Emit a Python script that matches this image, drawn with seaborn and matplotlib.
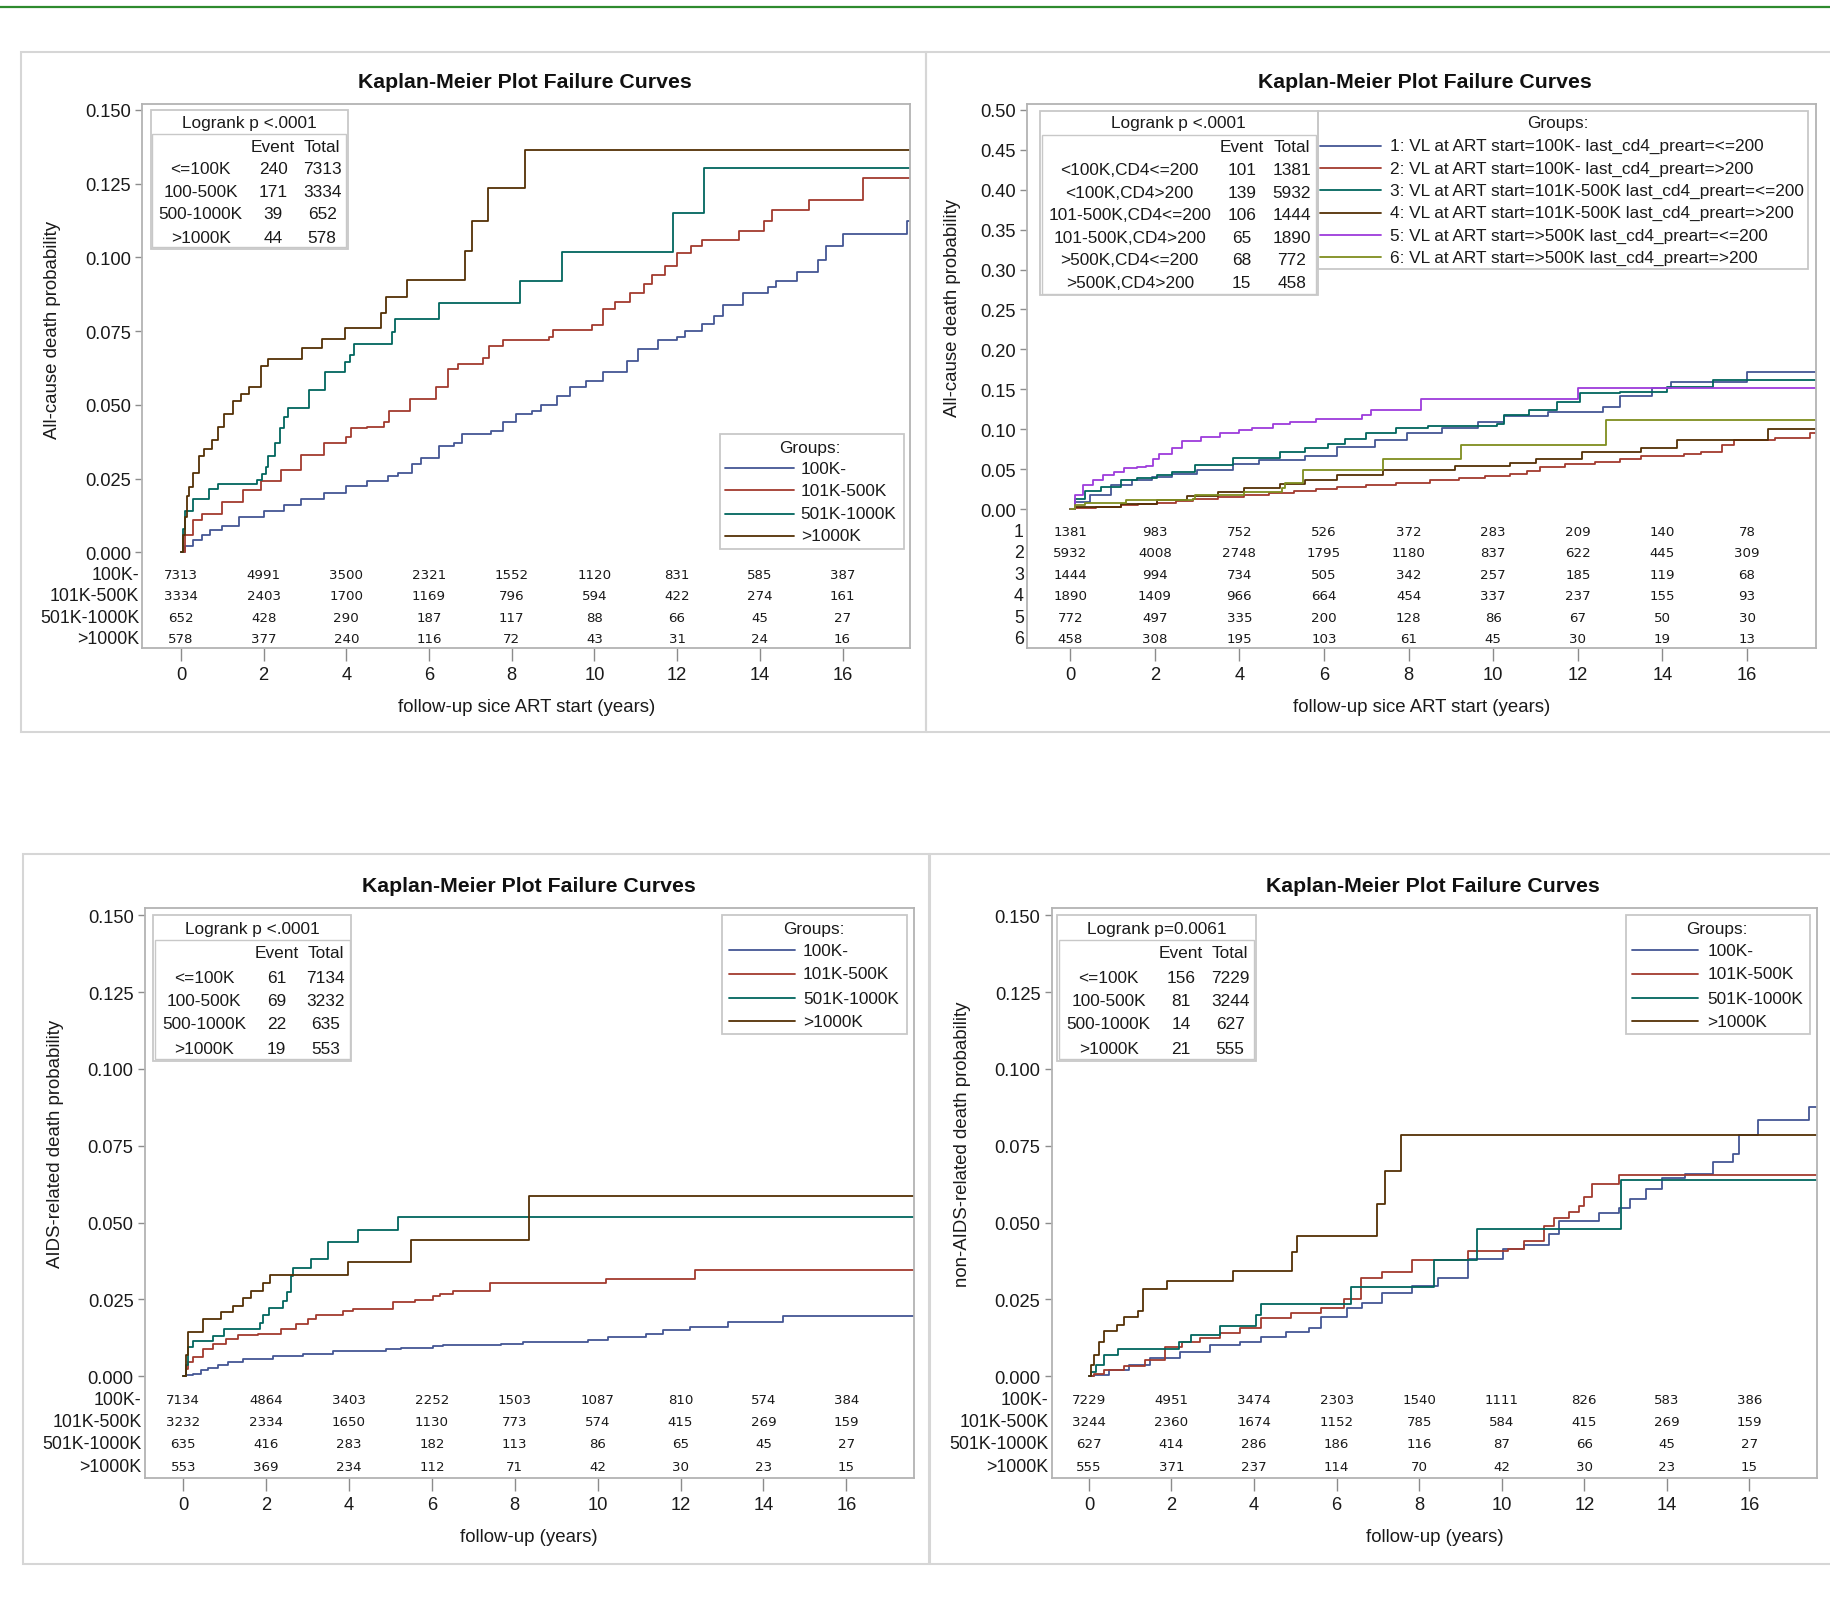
import numpy as np
import pandas as pd
import matplotlib
matplotlib.use("Agg")
import matplotlib.pyplot as plt
import seaborn as sns
from matplotlib.patches import Rectangle
from matplotlib.lines import Line2D
from matplotlib.transforms import blended_transform_factory

sns.set_theme(style="white")
plt.rcParams["font.family"] = ["Liberation Sans", "DejaVu Sans"]

# ------------------------------------------------------------------ data
TITLE = "Kaplan-Meier Plot Failure Curves"
YEARS_AT_RISK = [0, 2, 4, 6, 8, 10, 12, 14, 16]
GROUPS4 = ["100K-", "101K-500K", "501K-1000K", ">1000K"]
COLORS4 = ["#445694", "#A23A2E", "#01665E", "#543005"]
GROUPS6 = ["1", "2", "3", "4", "5", "6"]
COLORS6 = ["#445694", "#A23A2E", "#01665E", "#543005", "#9D3CDB", "#7F8E1F"]
GROUPS6_LABELS = [
    "1: VL at ART start=100K- last_cd4_preart=<=200",
    "2: VL at ART start=100K- last_cd4_preart=>200",
    "3: VL at ART start=101K-500K last_cd4_preart=<=200",
    "4: VL at ART start=101K-500K last_cd4_preart=>200",
    "5: VL at ART start=>500K last_cd4_preart=<=200",
    "6: VL at ART start=>500K last_cd4_preart=>200",
]

# --- Panel A: all-cause death, 4 VL groups
A_100K_t = [0, 0.1, 0.3, 0.5, 0.7, 1.0, 1.4, 2.0, 2.5, 2.9, 3.45, 4.0, 4.5, 5.0, 5.25, 5.6, 5.8, 6.25, 6.6, 6.8, 7.5, 7.8, 8.1, 8.5, 8.7, 9.1, 9.4, 9.8, 10.2, 10.8, 11.05, 11.55, 12.0, 12.2, 12.6, 12.9, 13.1, 13.6, 14.2, 14.4, 14.9, 15.4, 15.6, 16.0, 17.55, 17.64]
A_100K_v = [0, 0.002, 0.004, 0.006, 0.0075, 0.009, 0.012, 0.014, 0.016, 0.018, 0.020, 0.0225, 0.024, 0.026, 0.027, 0.030, 0.032, 0.036, 0.037, 0.040, 0.041, 0.044, 0.047, 0.048, 0.050, 0.053, 0.056, 0.058, 0.061, 0.065, 0.069, 0.072, 0.073, 0.075, 0.0775, 0.080, 0.084, 0.088, 0.090, 0.092, 0.095, 0.099, 0.104, 0.108, 0.1125, 0.1125]
A_500K_t = [0, 0.1, 0.3, 0.5, 1.0, 1.5, 1.93, 2.42, 2.9, 3.45, 4.0, 4.12, 4.5, 4.9, 5.04, 5.54, 6.18, 6.46, 6.7, 7.3, 7.45, 7.8, 8.9, 9.0, 9.95, 10.2, 10.5, 10.85, 11.2, 11.4, 11.7, 12.0, 12.33, 12.6, 13.5, 14.1, 14.3, 15.2, 16.5, 17.64]
A_500K_v = [0, 0.006, 0.011, 0.013, 0.017, 0.021, 0.024, 0.028, 0.033, 0.037, 0.039, 0.042, 0.0425, 0.044, 0.048, 0.052, 0.056, 0.062, 0.064, 0.066, 0.070, 0.072, 0.073, 0.0755, 0.077, 0.0825, 0.085, 0.088, 0.091, 0.094, 0.097, 0.1015, 0.104, 0.106, 0.109, 0.1125, 0.116, 0.1195, 0.127, 0.127]
A_1000K_t = [0, 0.05, 0.1, 0.3, 0.69, 0.9, 1.85, 1.95, 2.05, 2.1, 2.28, 2.4, 2.5, 2.59, 3.1, 3.48, 3.97, 4.08, 4.19, 5.1, 5.17, 6.25, 8.2, 9.22, 11.91, 12.65, 17.64]
A_1000K_v = [0, 0.008, 0.014, 0.018, 0.0215, 0.0233, 0.0245, 0.0265, 0.029, 0.0326, 0.037, 0.042, 0.046, 0.049, 0.055, 0.061, 0.0644, 0.067, 0.0705, 0.0748, 0.079, 0.0844, 0.092, 0.1018, 0.1152, 0.1303, 0.1303]
A_gt1000K_t = [0, 0.05, 0.1, 0.15, 0.2, 0.3, 0.44, 0.55, 0.75, 0.9, 1.05, 1.26, 1.46, 1.64, 1.93, 2.11, 2.92, 3.41, 3.98, 4.84, 4.97, 5.47, 6.86, 7.03, 7.42, 8.33, 17.64]
A_gt1000K_v = [0, 0.006, 0.012, 0.019, 0.022, 0.027, 0.0326, 0.035, 0.038, 0.0424, 0.047, 0.0512, 0.0538, 0.056, 0.0632, 0.0656, 0.0692, 0.0724, 0.076, 0.081, 0.0864, 0.0924, 0.1023, 0.1124, 0.1235, 0.1364, 0.1364]
A_risk_100K = [7313, 4991, 3500, 2321, 1552, 1120, 831, 585, 387]
A_risk_500K = [3334, 2403, 1700, 1169, 796, 594, 422, 274, 161]
A_risk_1000K = [652, 428, 290, 187, 117, 88, 66, 45, 27]
A_risk_gt1000K = [578, 377, 240, 116, 72, 43, 31, 24, 16]
A_lr_header = "Logrank p <.0001"
A_lr_labels = ["<=100K", "100-500K", "500-1000K", ">1000K"]
A_lr_events = [240, 171, 39, 44]
A_lr_totals = [7313, 3334, 652, 578]

# --- Panel B: all-cause death, 6 VL x CD4 groups
B1_t = [0, 0.12, 0.48, 0.96, 1.45, 1.93, 2.4, 3.0, 3.86, 4.46, 5.55, 6.3, 7.2, 7.96, 8.8, 9.65, 10.25, 11.3, 12.6, 13.0, 13.75, 14.2, 16.0, 17.63]
B1_v = [0, 0.009, 0.017, 0.030, 0.036, 0.040, 0.044, 0.049, 0.056, 0.061, 0.067, 0.078, 0.086, 0.095, 0.101, 0.109, 0.117, 0.122, 0.128, 0.141, 0.151, 0.159, 0.171, 0.171]
B2_t = [0, 0.12, 0.6, 1.2, 1.6, 2.05, 2.5, 2.9, 3.5, 4.1, 4.7, 5.3, 5.8, 6.3, 7.0, 7.7, 8.5, 9.2, 9.8, 10.4, 10.8, 11.1, 11.7, 12.4, 13.0, 13.5, 14.5, 14.9, 15.4, 15.7, 16.65, 17.5, 17.63]
B2_v = [0, 0.0013, 0.003, 0.0046, 0.006, 0.008, 0.010, 0.013, 0.015, 0.018, 0.020, 0.023, 0.025, 0.028, 0.030, 0.033, 0.036, 0.039, 0.041, 0.044, 0.048, 0.053, 0.056, 0.059, 0.063, 0.067, 0.069, 0.072, 0.080, 0.086, 0.089, 0.095, 0.095]
B3_t = [0, 0.12, 0.36, 0.72, 1.2, 1.57, 2.05, 2.4, 2.96, 3.86, 4.95, 5.55, 6.1, 6.5, 7.0, 7.7, 8.45, 10.1, 10.25, 10.85, 11.5, 12.06, 13.0, 14.1, 15.2, 17.63]
B3_v = [0, 0.013, 0.023, 0.028, 0.036, 0.039, 0.043, 0.046, 0.055, 0.064, 0.072, 0.076, 0.082, 0.088, 0.095, 0.101, 0.104, 0.107, 0.118, 0.124, 0.134, 0.145, 0.147, 0.153, 0.161, 0.161]
B4_t = [0, 0.12, 1.2, 2.05, 2.77, 3.5, 4.1, 4.95, 5.55, 6.3, 7.4, 9.1, 10.4, 11.0, 12.1, 13.5, 14.35, 16.5, 17.63]
B4_v = [0, 0.0025, 0.0067, 0.011, 0.016, 0.021, 0.026, 0.031, 0.036, 0.042, 0.049, 0.054, 0.058, 0.063, 0.072, 0.077, 0.087, 0.100, 0.100]
B5_t = [0, 0.12, 0.3, 0.54, 0.78, 1.03, 1.27, 1.57, 1.8, 1.95, 2.1, 2.4, 2.65, 3.1, 3.55, 4.0, 4.3, 4.8, 5.2, 5.8, 6.9, 7.1, 8.3, 12.0, 17.63]
B5_v = [0, 0.017, 0.030, 0.036, 0.042, 0.046, 0.051, 0.053, 0.054, 0.063, 0.069, 0.077, 0.085, 0.090, 0.095, 0.099, 0.102, 0.106, 0.109, 0.113, 0.118, 0.124, 0.138, 0.151, 0.151]
B6_t = [0, 0.12, 0.36, 1.33, 2.9, 2.96, 4.1, 5.0, 5.07, 5.5, 7.4, 9.23, 12.67, 17.63]
B6_v = [0, 0.005, 0.008, 0.011, 0.013, 0.017, 0.021, 0.026, 0.032, 0.049, 0.063, 0.080, 0.112, 0.112]
B_risk_1 = [1381, 983, 752, 526, 372, 283, 209, 140, 78]
B_risk_2 = [5932, 4008, 2748, 1795, 1180, 837, 622, 445, 309]
B_risk_3 = [1444, 994, 734, 505, 342, 257, 185, 119, 68]
B_risk_4 = [1890, 1409, 966, 664, 454, 337, 237, 155, 93]
B_risk_5 = [772, 497, 335, 200, 128, 86, 67, 50, 30]
B_risk_6 = [458, 308, 195, 103, 61, 45, 30, 19, 13]
B_lr_header = "Logrank p <.0001"
B_lr_labels = ["<100K,CD4<=200", "<100K,CD4>200", "101-500K,CD4<=200", "101-500K,CD4>200", ">500K,CD4<=200", ">500K,CD4>200"]
B_lr_events = [101, 139, 106, 65, 68, 15]
B_lr_totals = [1381, 5932, 1444, 1890, 772, 458]

# --- Panel C: AIDS-related death
C_100K_t = [0, 0.06, 0.24, 0.42, 0.6, 0.84, 1.09, 1.45, 2.17, 2.9, 3.62, 4.89, 5.25, 6.03, 6.27, 7.66, 8.2, 9.77, 10.25, 11.16, 11.58, 12.24, 13.15, 14.48, 17.63]
C_100K_v = [0, 0.0003, 0.0009, 0.0019, 0.0027, 0.0038, 0.0047, 0.0057, 0.0066, 0.0074, 0.0081, 0.0088, 0.0092, 0.0097, 0.0101, 0.0105, 0.0111, 0.0119, 0.0128, 0.0139, 0.0152, 0.016, 0.0176, 0.0196, 0.0196]
C_500K_t = [0, 0.06, 0.12, 0.24, 0.48, 0.72, 1.03, 1.33, 1.81, 2.35, 2.71, 3.02, 3.2, 3.86, 4.1, 5.07, 5.6, 6.03, 6.2, 6.5, 7.4, 10.2, 12.36, 17.63]
C_500K_v = [0, 0.0025, 0.0047, 0.0063, 0.009, 0.0106, 0.0122, 0.0133, 0.0139, 0.0153, 0.0171, 0.0187, 0.0198, 0.0214, 0.0218, 0.0241, 0.0249, 0.026, 0.0268, 0.0277, 0.0303, 0.0317, 0.0346, 0.0346]
C_1000K_t = [0, 0.06, 0.12, 0.24, 0.72, 0.99, 1.85, 1.93, 2.07, 2.41, 2.5, 2.6, 2.65, 3.08, 3.5, 4.22, 5.19, 17.63]
C_1000K_v = [0, 0.0036, 0.0095, 0.0114, 0.0131, 0.0155, 0.0174, 0.0198, 0.0222, 0.0245, 0.0274, 0.0326, 0.0352, 0.038, 0.0438, 0.0477, 0.0519, 0.0519]
C_gt1000K_t = [0, 0.06, 0.12, 0.48, 0.9, 1.2, 1.45, 1.63, 1.93, 2.09, 3.98, 5.49, 8.35, 17.63]
C_gt1000K_v = [0, 0.0068, 0.0144, 0.0187, 0.0209, 0.023, 0.0254, 0.0279, 0.0303, 0.0331, 0.0371, 0.0442, 0.0586, 0.0586]
C_risk_100K = [7134, 4864, 3403, 2252, 1503, 1087, 810, 574, 384]
C_risk_500K = [3232, 2334, 1650, 1130, 773, 574, 415, 269, 159]
C_risk_1000K = [635, 416, 283, 182, 113, 86, 65, 45, 27]
C_risk_gt1000K = [553, 369, 234, 112, 71, 42, 30, 23, 15]
C_lr_header = "Logrank p <.0001"
C_lr_labels = ["<=100K", "100-500K", "500-1000K", ">1000K"]
C_lr_events = [61, 69, 22, 19]
C_lr_totals = [7134, 3232, 635, 553]

# --- Panel D: non-AIDS-related death
D_100K_t = [0, 0.12, 0.49, 0.98, 1.47, 2.2, 2.94, 3.67, 4.16, 4.77, 5.32, 5.63, 6.24, 6.61, 7.1, 7.83, 8.45, 9.18, 10.04, 10.53, 11.14, 11.38, 12.36, 12.85, 13.1, 13.5, 13.89, 14.44, 15.12, 15.6, 15.75, 16.2, 17.45, 17.64]
D_100K_v = [0, 0.0005, 0.002, 0.0038, 0.0058, 0.0078, 0.0102, 0.0112, 0.0129, 0.0143, 0.0158, 0.0194, 0.0222, 0.0238, 0.0271, 0.0293, 0.032, 0.038, 0.0413, 0.0427, 0.0462, 0.0505, 0.053, 0.0547, 0.0576, 0.0609, 0.0644, 0.0658, 0.0697, 0.0724, 0.0784, 0.0835, 0.0875, 0.0875]
D_500K_t = [0, 0.12, 0.37, 0.86, 1.35, 1.84, 2.26, 2.69, 3.18, 3.67, 4.16, 4.9, 5.63, 6.18, 6.6, 7.1, 7.83, 9.18, 10.16, 10.53, 11.02, 11.26, 11.63, 11.87, 11.99, 12.18, 12.83, 17.64]
D_500K_v = [0, 0.0009, 0.002, 0.0034, 0.0052, 0.0096, 0.011, 0.0123, 0.014, 0.0158, 0.0189, 0.0205, 0.0222, 0.0251, 0.032, 0.034, 0.0377, 0.0407, 0.0413, 0.044, 0.0489, 0.0516, 0.0533, 0.0555, 0.0584, 0.0626, 0.0655, 0.0655]
D_1000K_t = [0, 0.06, 0.18, 0.37, 0.71, 2.18, 2.48, 3.18, 4.04, 4.16, 6.36, 8.36, 9.4, 12.88, 17.64]
D_1000K_v = [0, 0.0014, 0.0036, 0.0069, 0.0088, 0.011, 0.0134, 0.0164, 0.02, 0.0235, 0.0289, 0.0378, 0.0478, 0.0639, 0.0639]
D_gt1000K_t = [0, 0.06, 0.12, 0.24, 0.37, 0.67, 0.86, 1.2, 1.32, 1.9, 3.49, 4.93, 5.05, 6.98, 7.18, 7.56, 17.64]
D_gt1000K_v = [0, 0.0036, 0.0069, 0.0112, 0.0148, 0.0167, 0.0194, 0.0213, 0.0285, 0.0311, 0.0344, 0.0404, 0.0455, 0.0562, 0.0669, 0.0784, 0.0784]
D_risk_100K = [7229, 4951, 3474, 2303, 1540, 1111, 826, 583, 386]
D_risk_500K = [3244, 2360, 1674, 1152, 785, 584, 415, 269, 159]
D_risk_1000K = [627, 414, 286, 186, 116, 87, 66, 45, 27]
D_risk_gt1000K = [555, 371, 237, 114, 70, 42, 30, 23, 15]
D_lr_header = "Logrank p=0.0061"
D_lr_labels = ["<=100K", "100-500K", "500-1000K", ">1000K"]
D_lr_events = [156, 81, 14, 21]
D_lr_totals = [7229, 3244, 627, 555]

# ------------------------------------------------------------------ layout helpers
W, H = 1830, 1606
S = 1830 / 1568.0          # layout numbers below are in 1568-wide units
TXT = "#1a1a1a"
FRAME = "#b3b3b3"
BOXC = "#c8c8c8"
FS = 12.4                  # general text size

fig = plt.figure(figsize=(W / 100, H / 100), dpi=100)
fig.patch.set_facecolor("white")


def fx(x):
    return x * S / W


def fy(y):
    return 1 - y * S / H


def rect(x0, y0, x1, y1, ec, lw=1.2):
    fig.add_artist(Rectangle((fx(x0), fy(y1)), fx(x1) - fx(x0), fy(y0) - fy(y1),
                             transform=fig.transFigure, fill=False, ec=ec, lw=lw))


def ftext(x, y, s, **kw):
    kw.setdefault("color", TXT)
    kw.setdefault("fontsize", FS)
    fig.text(fx(x), fy(y), s, va="center", **kw)


def logrank_box(x0, y0, x1, y1, sep, header, hdr_y, col_y, row_ys, lab_cx, ev_cx, tot_cx,
                labels, events, totals):
    rect(x0, y0, x1, y1, BOXC, 1.3)
    rect(x0 + 1.5, sep, x1 - 1.5, y1 - 1.5, BOXC, 1.0)
    ftext((x0 + x1) / 2, hdr_y, header, ha="center")
    ftext(ev_cx, col_y, "Event", ha="center")
    ftext(tot_cx, col_y, "Total", ha="center")
    for yy, lab, e, t in zip(row_ys, labels, events, totals):
        ftext(lab_cx, yy, lab, ha="center")
        ftext(ev_cx, yy, str(e), ha="center")
        ftext(tot_cx, yy, str(t), ha="center")


def groups_box(x0, y0, x1, y1, title_xy, row_ys, lx0, lx1, tx, labels, colors):
    rect(x0, y0, x1, y1, BOXC, 1.3)
    ftext(title_xy[0], title_xy[1], "Groups:", ha="center")
    for yy, lab, c in zip(row_ys, labels, colors):
        fig.add_artist(Line2D([fx(lx0), fx(lx1)], [fy(yy), fy(yy)], color=c, lw=1.3,
                              transform=fig.transFigure))
        ftext(tx, yy, lab, ha="left")


def panel(frame, xlim, ylim, yticks, yfmt, curves, order, colors, risk, risk_names,
          risk_yf, ylabel, ylab_pos, xlabel, xlab_y):
    x0, y0, x1, y1 = frame
    ax = fig.add_axes([fx(x0), fy(y1), fx(x1) - fx(x0), fy(y0) - fy(y1)])
    parts = [pd.DataFrame({"time": t, "prob": v, "group": name})
             for name, (t, v) in zip(order, curves)]
    df = pd.concat(parts, ignore_index=True)
    sns.lineplot(data=df, x="time", y="prob", hue="group", hue_order=order,
                 palette=colors, drawstyle="steps-post", estimator=None, sort=False,
                 legend=False, linewidth=1.3, ax=ax)
    ax.set_xlim(*xlim)
    ax.set_ylim(*ylim)
    ax.set_xticks(YEARS_AT_RISK)
    ax.set_xticklabels([str(v) for v in YEARS_AT_RISK])
    ax.set_yticks(yticks)
    ax.set_yticklabels([yfmt.format(v) for v in yticks])
    ax.tick_params(axis="both", colors="#8c8c8c", labelcolor=TXT, labelsize=13.2,
                   width=1.0)
    ax.tick_params(axis="y", length=5, pad=3, left=True)
    ax.tick_params(axis="x", length=9, pad=4, bottom=True)
    for sp in ax.spines.values():
        sp.set_color(FRAME)
        sp.set_linewidth(1.3)
    ax.grid(False)
    ax.set_facecolor("white")
    ax.set_ylabel(ylabel, fontsize=13.4, color=TXT)
    ax.yaxis.set_label_coords(*ylab_pos)
    ax.yaxis.label.set_va("center")
    ax.set_xlabel(xlabel, fontsize=13.4, color=TXT)
    ax.xaxis.set_label_coords(0.5, xlab_y)
    ax.xaxis.label.set_va("center")
    blend = blended_transform_factory(ax.transData, ax.transAxes)
    for name, vals, yf in zip(risk_names, risk, risk_yf):
        ax.text(-0.004, yf, name, transform=ax.transAxes, ha="right", va="center",
                fontsize=12.8, color=TXT)
        for xv, n in zip(YEARS_AT_RISK, vals):
            ax.text(xv, yf, str(n), transform=blend, ha="center", va="center",
                    fontsize=9.6, family="DejaVu Sans", color=TXT)
    return ax


# ------------------------------------------------------------------ page decorations
fig.add_artist(Line2D([0, 1], [1 - 8 / H, 1 - 8 / H], color="#2e8b2e", lw=1.6,
                      transform=fig.transFigure))
rect(18, 45, 793, 628, "#d6d6d6", 1.5)
rect(793, 45, 1575, 628, "#d6d6d6", 1.5)
rect(20, 733, 796, 1341, "#d6d6d6", 1.5)
rect(797, 733, 1575, 1341, "#d6d6d6", 1.5)

for (tx, ty) in [(450, 71), (1221, 71), (453, 760), (1228, 760)]:
    ftext(tx, ty, TITLE, ha="center", fontsize=15.3, fontweight="bold", color="#111111")

# ------------------------------------------------------------------ panel A
panel((122, 90, 780, 556), (-0.931, 17.64), (-0.03245, 0.152),
      [0, 0.025, 0.05, 0.075, 0.1, 0.125, 0.15], "{:.3f}",
      [(A_100K_t, A_100K_v), (A_500K_t, A_500K_v), (A_1000K_t, A_1000K_v),
       (A_gt1000K_t, A_gt1000K_v)],
      GROUPS4, COLORS4,
      [A_risk_100K, A_risk_500K, A_risk_1000K, A_risk_gt1000K], GROUPS4,
      [0.135, 0.0966, 0.0558, 0.0172],
      "All-cause death probability", (-0.117, 0.586),
      "follow-up sice ART start (years)", -0.107)
logrank_box(129, 95, 298, 214, 116, A_lr_header, 105.5, 126, [145, 165, 184, 204],
            172, 234, 276, A_lr_labels, A_lr_events, A_lr_totals)
groups_box(617, 373, 775, 471, (694, 384), [402, 421, 441, 460], 621, 680, 686,
           GROUPS4, COLORS4)

# ------------------------------------------------------------------ panel B
panel((880, 90, 1556, 556), (-1.02, 17.63), (-0.174, 0.5073),
      [0, 0.05, 0.1, 0.15, 0.2, 0.25, 0.3, 0.35, 0.4, 0.45, 0.5], "{:.2f}",
      [(B1_t, B1_v), (B2_t, B2_v), (B3_t, B3_v), (B4_t, B4_v), (B5_t, B5_v),
       (B6_t, B6_v)],
      GROUPS6, COLORS6,
      [B_risk_1, B_risk_2, B_risk_3, B_risk_4, B_risk_5, B_risk_6], GROUPS6,
      [0.2146, 0.176, 0.1352, 0.0966, 0.0558, 0.0172],
      "All-cause death probability", (-0.095, 0.627),
      "follow-up sice ART start (years)", -0.107)
logrank_box(891, 96, 1129, 254, 116.3, B_lr_header, 106, 126.5,
            [146.3, 165.6, 184.8, 204.2, 223.6, 242.8],
            968, 1064, 1107, B_lr_labels, B_lr_events, B_lr_totals)
groups_box(1129, 96, 1549, 231, (1335, 106), [125.7, 144.8, 163.7, 183.1, 202.2, 221.3],
           1131, 1183, 1191, GROUPS6_LABELS, COLORS6)

# ------------------------------------------------------------------ panel C
panel((124, 779, 783, 1267), (-0.93, 17.63), (-0.033, 0.1523),
      [0, 0.025, 0.05, 0.075, 0.1, 0.125, 0.15], "{:.3f}",
      [(C_100K_t, C_100K_v), (C_500K_t, C_500K_v), (C_1000K_t, C_1000K_v),
       (C_gt1000K_t, C_gt1000K_v)],
      GROUPS4, COLORS4,
      [C_risk_100K, C_risk_500K, C_risk_1000K, C_risk_gt1000K], GROUPS4,
      [0.137, 0.098, 0.0594, 0.0205],
      "AIDS-related death probability", (-0.1166, 0.588),
      "follow-up (years)", -0.104)
logrank_box(131, 785, 301, 910, 806, C_lr_header, 796, 817, [838, 858, 878, 899],
            175, 237, 279, C_lr_labels, C_lr_events, C_lr_totals)
groups_box(619, 785, 777, 887, (697, 796), [815, 835, 856, 876], 625, 681, 688,
           GROUPS4, COLORS4)

# ------------------------------------------------------------------ panel D
panel((901, 779, 1557, 1267), (-0.905, 17.64), (-0.033, 0.1523),
      [0, 0.025, 0.05, 0.075, 0.1, 0.125, 0.15], "{:.3f}",
      [(D_100K_t, D_100K_v), (D_500K_t, D_500K_v), (D_1000K_t, D_1000K_v),
       (D_gt1000K_t, D_gt1000K_v)],
      GROUPS4, COLORS4,
      [D_risk_100K, D_risk_500K, D_risk_1000K, D_risk_gt1000K], GROUPS4,
      [0.137, 0.098, 0.0594, 0.0205],
      "non-AIDS-related death probability", (-0.1158, 0.588),
      "follow-up (years)", -0.104)
logrank_box(906, 785, 1076, 910, 806, D_lr_header, 796, 817, [838, 858, 878, 899],
            950, 1012, 1054, D_lr_labels, D_lr_events, D_lr_totals)
groups_box(1393, 785, 1551, 887, (1471, 796), [815, 835, 856, 876], 1398, 1455, 1463,
           GROUPS4, COLORS4)

fig.savefig("out.png", dpi=100, facecolor="white")
